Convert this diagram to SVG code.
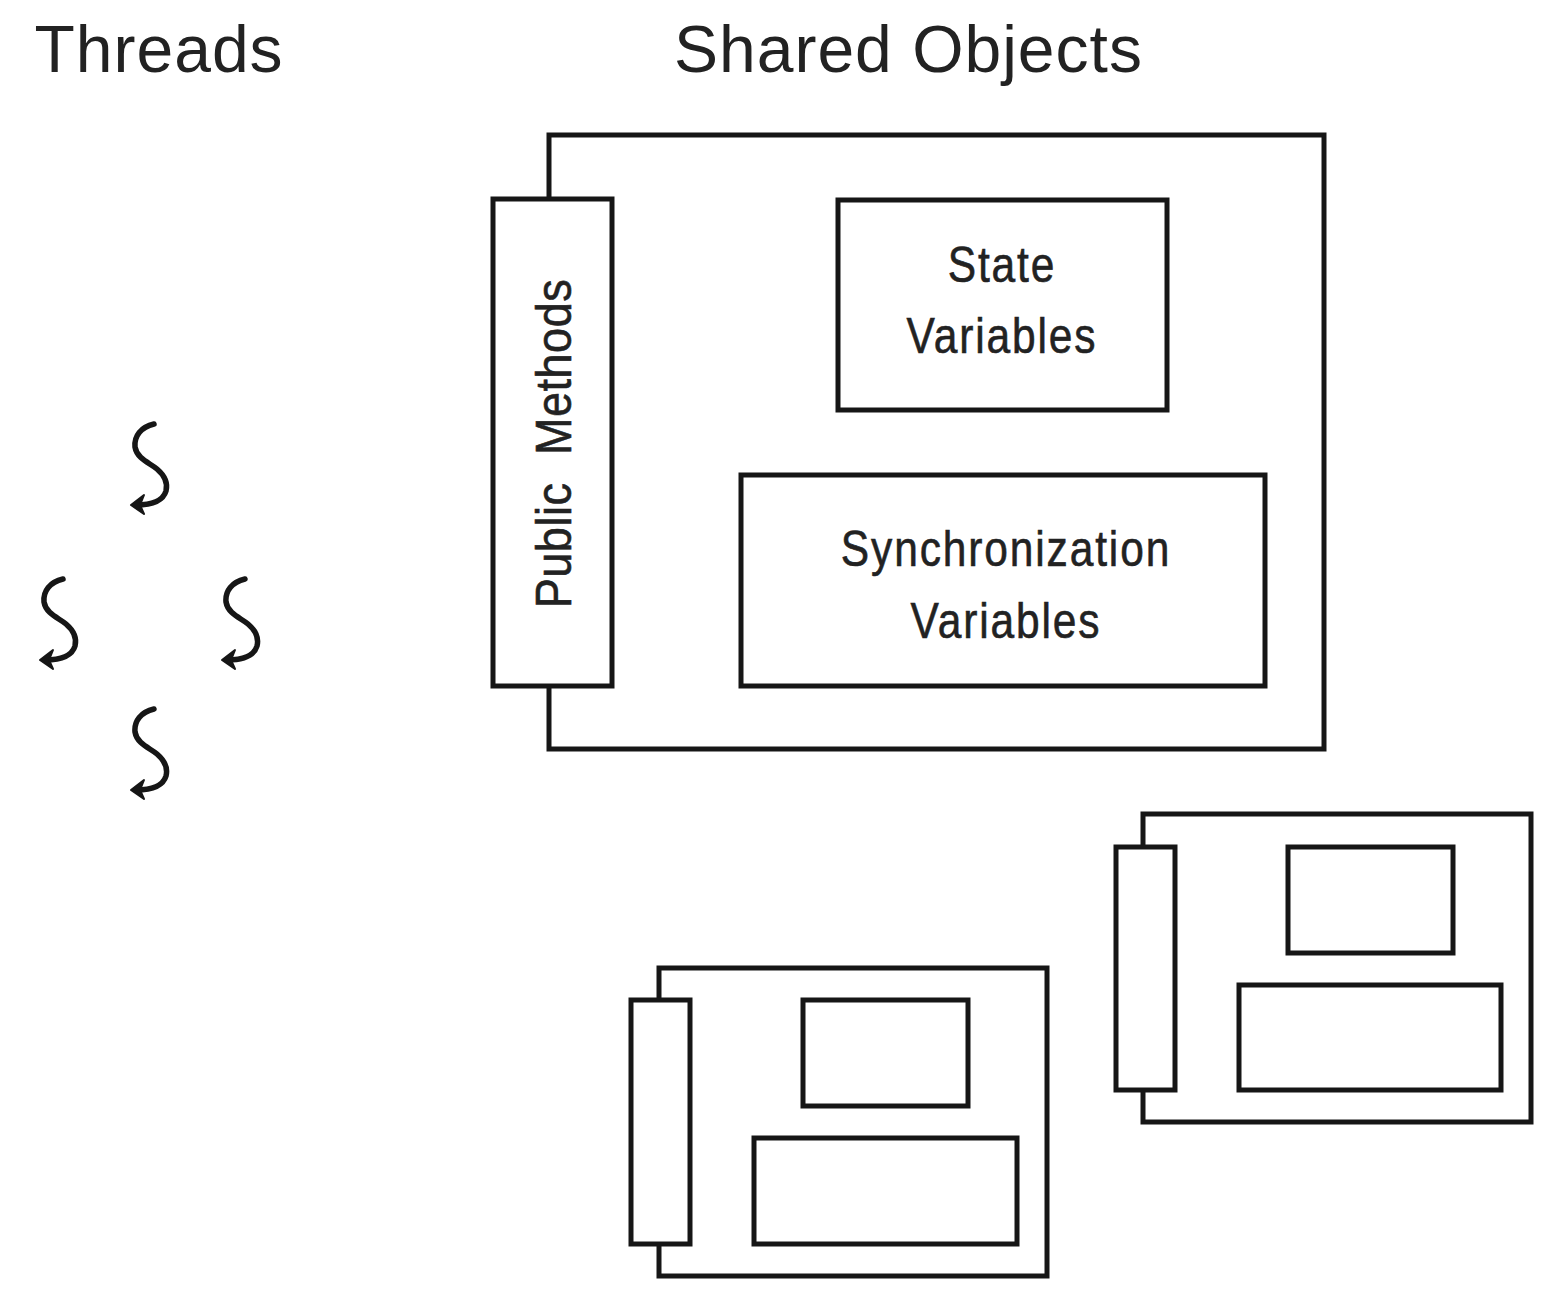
<svg xmlns="http://www.w3.org/2000/svg" width="1556" height="1302" viewBox="0 0 1556 1302">
<defs>
<style>
.b{fill:#fff;stroke:#161616;stroke-width:5}
.o{fill:none;stroke:#161616;stroke-width:5}
.h{font-family:"Liberation Sans",Arial,sans-serif;font-size:66px;letter-spacing:1px;fill:#222}
.t{font-family:"Liberation Sans",Arial,sans-serif;font-size:50px;letter-spacing:2.2px;fill:#222;stroke:#222;stroke-width:.6;text-anchor:middle}
.p{font-family:"Liberation Sans",Arial,sans-serif;font-size:50px;letter-spacing:.6px;word-spacing:16px;fill:#222;stroke:#222;stroke-width:.6;text-anchor:middle}
.s{fill:none;stroke:#161616;stroke-width:5.500;stroke-linecap:round;stroke-linejoin:round}
.a{fill:#161616;stroke:#161616;stroke-width:2;stroke-linejoin:round}
</style>
<g id="thread"><path class="s" d="M154 424C141 427 134 436 135 447C137 459 150 463 157 469C164 475 168 483 166 491C163 501 151 505 136 505"/><path class="a" d="M131 505L144 495L140 505L144 514Z"/></g>
</defs>
<rect width="1556" height="1302" fill="#fff"/>
<text class="h" x="34.500" y="72">Threads</text>
<text class="h" x="674" y="72">Shared Objects</text>
<g id="threads">
<use id="thread1" href="#thread"/>
<use id="thread2" href="#thread" x="-91" y="155"/>
<use id="thread3" href="#thread" x="91" y="155"/>
<use id="thread4" href="#thread" y="285"/>
</g>
<g id="object-main">
<rect class="o" x="549" y="135" width="775" height="614"/>
<rect class="b" x="493" y="199" width="119" height="487"/>
<text class="p" transform="translate(571 443.500) rotate(-90) scale(.9 1)">Public Methods</text>
<rect class="b" x="838" y="200" width="329" height="210"/>
<text class="t" transform="translate(1002 282) scale(.85 1)">State</text>
<text class="t" transform="translate(1002 353) scale(.85 1)">Variables</text>
<rect class="b" x="741" y="475" width="524" height="211"/>
<text class="t" transform="translate(1006 566) scale(.85 1)">Synchronization</text>
<text class="t" transform="translate(1006 638) scale(.85 1)">Variables</text>
</g>
<g id="object-right">
<rect class="o" x="1143" y="814" width="388" height="308"/>
<rect class="b" x="1116" y="847" width="59" height="243"/>
<rect class="b" x="1288" y="847" width="165" height="106"/>
<rect class="b" x="1239" y="985" width="262" height="105"/>
</g>
<g id="object-bottom">
<rect class="o" x="659" y="968" width="388" height="308"/>
<rect class="b" x="631" y="1000" width="59" height="244"/>
<rect class="b" x="803" y="1000" width="165" height="106"/>
<rect class="b" x="754" y="1138" width="263" height="106"/>
</g>
</svg>
